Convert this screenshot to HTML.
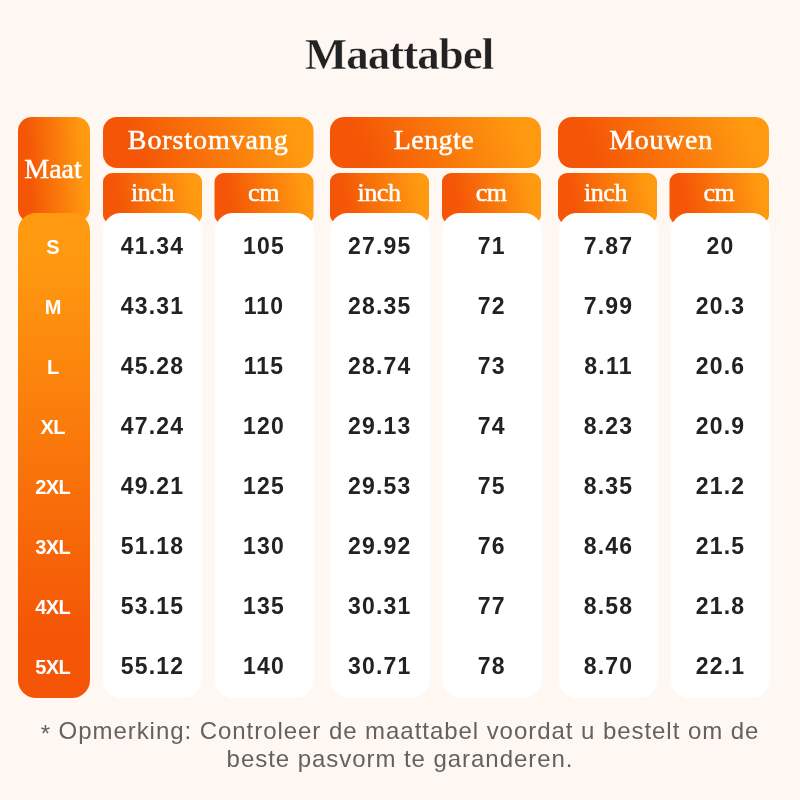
<!DOCTYPE html>
<html lang="nl"><head><meta charset="utf-8"><title>Maattabel</title>
<style>
html,body{margin:0;padding:0}
body{width:800px;height:800px;background:#fff7f2;position:relative;overflow:hidden;font-family:"Liberation Sans",Arial,sans-serif}
.abs{position:absolute}
h1{position:absolute;left:-1px;top:24px;width:800px;margin:0;text-align:center;font-family:"Liberation Serif","DejaVu Serif",serif;font-weight:700;font-size:45px;line-height:60px;color:#222;letter-spacing:-1px;-webkit-text-stroke:0.5px #fff7f2}
.hd{position:absolute;color:#fff;font-family:"Liberation Serif","DejaVu Serif",serif;font-weight:400;text-align:center;-webkit-text-stroke:0.5px #fff}
.g{top:117px;height:51px;border-radius:14px;font-size:28px;line-height:46.5px}
.u{top:173px;height:49px;border-radius:9px;font-size:26px;line-height:40px;letter-spacing:-0.4px}
.maat{left:18px;top:117px;width:72px;height:106px;border-radius:14px;font-size:28px;line-height:102px}
.sz{position:absolute;left:18px;top:213px;width:71.5px;height:485px;border-radius:18px;background:linear-gradient(180deg,#ff9a10 8%,#f45506 88%)}
.col{position:absolute;top:213px;height:485px;border-radius:18px;background:#fff}
.c{position:absolute;left:0;width:100%;text-align:center;font-weight:700;font-size:23px;line-height:30px;color:#222;letter-spacing:1.2px}
.sz .c{color:#fff;font-size:20px;letter-spacing:-0.5px;left:-1px}
.note{position:absolute;left:0;top:717px;width:800px;text-align:center;font-size:24px;line-height:27.5px;color:#626262;letter-spacing:0.95px}
</style></head><body>
<h1>Maattabel</h1>
<svg class="abs" style="left:0;top:0" width="800" height="800" viewBox="0 0 800 800">
<defs><linearGradient id="og" x1="0" y1="0.55" x2="1" y2="0.45"><stop offset="0.14" stop-color="#f45506"/><stop offset="0.92" stop-color="#ff9a10"/></linearGradient></defs>
<rect x="18" y="117" width="72" height="105.5" rx="14" fill="url(#og)"/>
<rect x="103" y="117" width="210.5" height="51" rx="14" fill="url(#og)"/>
<rect x="330" y="117" width="211" height="51" rx="14" fill="url(#og)"/>
<rect x="558" y="117" width="211" height="51" rx="14" fill="url(#og)"/>
<rect x="103" y="173" width="99" height="51" rx="9" fill="url(#og)"/>
<rect x="214.5" y="173" width="99.0" height="51" rx="9" fill="url(#og)"/>
<rect x="330" y="173" width="99" height="51" rx="9" fill="url(#og)"/>
<rect x="442" y="173" width="99" height="51" rx="9" fill="url(#og)"/>
<rect x="558" y="173" width="99" height="51" rx="9" fill="url(#og)"/>
<rect x="669.5" y="173" width="99.5" height="51" rx="9" fill="url(#og)"/>
</svg>
<div class="hd maat"><span style="position:relative;left:-1px;top:0.5px">Maat</span></div>
<div class="hd g" style="left:103px;width:210.5px;letter-spacing:0.9px"><span style="position:relative;left:0px">Borstomvang</span></div>
<div class="hd g" style="left:330px;width:211px;letter-spacing:0.4px"><span style="position:relative;left:-1.6px">Lengte</span></div>
<div class="hd g" style="left:558px;width:211px;letter-spacing:0.7px"><span style="position:relative;left:-2.5px">Mouwen</span></div>
<div class="hd u" style="left:103px;width:99px"><span style="position:relative;left:0px">inch</span></div>
<div class="hd u" style="left:214.5px;width:99.0px"><span style="position:relative;left:-0.5px">cm</span></div>
<div class="hd u" style="left:330px;width:99px"><span style="position:relative;left:-0.5px">inch</span></div>
<div class="hd u" style="left:442px;width:99px"><span style="position:relative;left:-0.3px">cm</span></div>
<div class="hd u" style="left:558px;width:99px"><span style="position:relative;left:-2px">inch</span></div>
<div class="hd u" style="left:669.5px;width:99.5px"><span style="position:relative;left:-0.3px">cm</span></div>
<div class="sz">
<div class="c" style="top:19px">S</div>
<div class="c" style="top:79px">M</div>
<div class="c" style="top:139px">L</div>
<div class="c" style="top:199px">XL</div>
<div class="c" style="top:259px">2XL</div>
<div class="c" style="top:319px">3XL</div>
<div class="c" style="top:379px">4XL</div>
<div class="c" style="top:439px">5XL</div>
</div>
<div class="col" style="left:103px;width:99px">
<div class="c" style="top:18px">41.34</div>
<div class="c" style="top:78px">43.31</div>
<div class="c" style="top:138px">45.28</div>
<div class="c" style="top:198px">47.24</div>
<div class="c" style="top:258px">49.21</div>
<div class="c" style="top:318px">51.18</div>
<div class="c" style="top:378px">53.15</div>
<div class="c" style="top:438px">55.12</div>
</div>
<div class="col" style="left:214.5px;width:99.0px">
<div class="c" style="top:18px">105</div>
<div class="c" style="top:78px">110</div>
<div class="c" style="top:138px">115</div>
<div class="c" style="top:198px">120</div>
<div class="c" style="top:258px">125</div>
<div class="c" style="top:318px">130</div>
<div class="c" style="top:378px">135</div>
<div class="c" style="top:438px">140</div>
</div>
<div class="col" style="left:330px;width:99.5px">
<div class="c" style="top:18px">27.95</div>
<div class="c" style="top:78px">28.35</div>
<div class="c" style="top:138px">28.74</div>
<div class="c" style="top:198px">29.13</div>
<div class="c" style="top:258px">29.53</div>
<div class="c" style="top:318px">29.92</div>
<div class="c" style="top:378px">30.31</div>
<div class="c" style="top:438px">30.71</div>
</div>
<div class="col" style="left:442px;width:99.5px">
<div class="c" style="top:18px">71</div>
<div class="c" style="top:78px">72</div>
<div class="c" style="top:138px">73</div>
<div class="c" style="top:198px">74</div>
<div class="c" style="top:258px">75</div>
<div class="c" style="top:318px">76</div>
<div class="c" style="top:378px">77</div>
<div class="c" style="top:438px">78</div>
</div>
<div class="col" style="left:559px;width:99px">
<div class="c" style="top:18px">7.87</div>
<div class="c" style="top:78px">7.99</div>
<div class="c" style="top:138px">8.11</div>
<div class="c" style="top:198px">8.23</div>
<div class="c" style="top:258px">8.35</div>
<div class="c" style="top:318px">8.46</div>
<div class="c" style="top:378px">8.58</div>
<div class="c" style="top:438px">8.70</div>
</div>
<div class="col" style="left:671px;width:99px">
<div class="c" style="top:18px">20</div>
<div class="c" style="top:78px">20.3</div>
<div class="c" style="top:138px">20.6</div>
<div class="c" style="top:198px">20.9</div>
<div class="c" style="top:258px">21.2</div>
<div class="c" style="top:318px">21.5</div>
<div class="c" style="top:378px">21.8</div>
<div class="c" style="top:438px">22.1</div>
</div>
<div class="note"><span style="position:relative;top:3px">*</span> Opmerking: Controleer de maattabel voordat u bestelt om de<br>beste pasvorm te garanderen.</div>
</body></html>
